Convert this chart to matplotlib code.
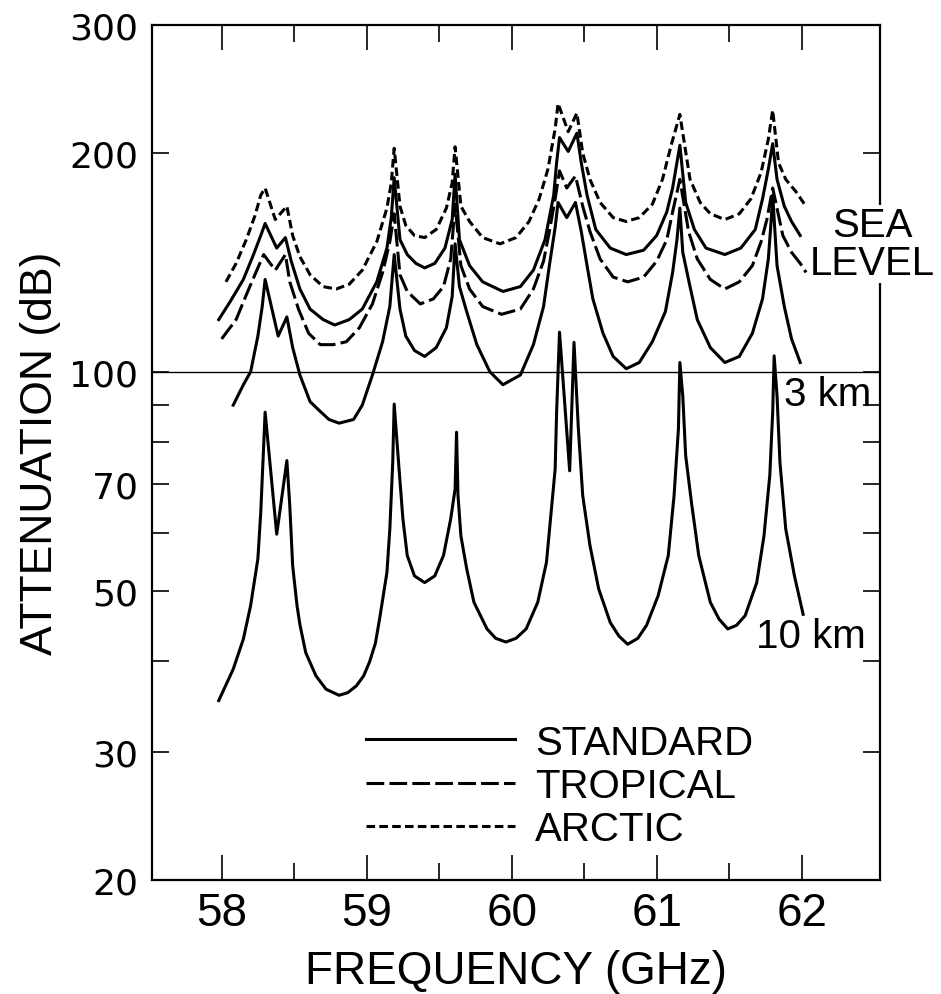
import matplotlib
matplotlib.use("Agg")
import matplotlib.pyplot as plt
from matplotlib.ticker import NullFormatter

plt.rcParams["font.family"] = ["Liberation Sans", "DejaVu Sans"]

# --- values (frequency in GHz, attenuation in dB) ---

# sea level, arctic atmosphere
sl_arctic_f = [58.03, 58.10, 58.17, 58.23, 58.27, 58.30, 58.37, 58.45, 58.49, 58.54,
               58.61, 58.70, 58.79, 58.88, 58.97, 59.07, 59.14, 59.17, 59.19, 59.23,
               59.27, 59.33, 59.40, 59.48, 59.55, 59.59, 59.61, 59.65, 59.71, 59.80,
               59.92, 60.03, 60.12, 60.19, 60.25, 60.30, 60.32, 60.39, 60.45, 60.49,
               60.54, 60.61, 60.70, 60.79, 60.88, 60.97, 61.04, 61.10, 61.16, 61.23,
               61.30, 61.37, 61.47, 61.57, 61.65, 61.72, 61.77, 61.80, 61.84, 61.89,
               61.96, 62.02]
sl_arctic_v = [133, 141, 152, 164, 175, 179, 162, 169, 154, 144,
               136, 131, 130, 132, 138, 151, 168, 182, 203, 169,
               159, 154, 153, 157, 168, 182, 204, 169, 161, 153,
               150, 153, 161, 173, 190, 216, 234, 214, 227, 200,
               184, 171, 163, 161, 163, 170, 184, 205, 226, 184,
               171, 165, 162, 165, 173, 188, 209, 229, 194, 184,
               177, 170]

# sea level, standard atmosphere
sl_std_f = [57.98, 58.06, 58.15, 58.22, 58.27, 58.30, 58.38, 58.44, 58.48, 58.54,
            58.61, 58.70, 58.78, 58.88, 58.97, 59.07, 59.14, 59.17, 59.19, 59.23,
            59.28, 59.34, 59.40, 59.47, 59.54, 59.59, 59.61, 59.64, 59.71, 59.80,
            59.94, 60.06, 60.15, 60.23, 60.29, 60.31, 60.33, 60.39, 60.45, 60.48,
            60.52, 60.58, 60.68, 60.79, 60.91, 61.00, 61.07, 61.11, 61.16, 61.20,
            61.26, 61.34, 61.47, 61.58, 61.68, 61.73, 61.77, 61.80, 61.83, 61.88,
            61.93, 61.99]
sl_std_v = [118, 125, 134, 145, 154, 160, 148, 153, 142, 130,
            122, 118, 116, 118, 122, 133, 148, 163, 185, 152,
            145, 141, 139, 141, 148, 162, 187, 152, 140, 133,
            129, 131, 138, 152, 175, 194, 210, 201, 213, 194,
            175, 157, 148, 145, 147, 154, 166, 179, 205, 171,
            157, 148, 145, 148, 157, 173, 190, 206, 184, 169,
            161, 154]

# sea level, tropical atmosphere
sl_trop_f = [58.00, 58.10, 58.18, 58.25, 58.29, 58.37, 58.44, 58.47, 58.53, 58.60,
             58.68, 58.77, 58.86, 58.95, 59.04, 59.11, 59.16, 59.19, 59.23, 59.28,
             59.37, 59.46, 59.53, 59.58, 59.61, 59.65, 59.71, 59.80, 59.93, 60.06,
             60.15, 60.22, 60.26, 60.30, 60.33, 60.38, 60.44, 60.49, 60.54, 60.61,
             60.70, 60.80, 60.91, 61.00, 61.07, 61.11, 61.16, 61.22, 61.28, 61.37,
             61.47, 61.57, 61.66, 61.72, 61.76, 61.80, 61.87, 61.93, 61.99, 62.03]
sl_trop_v = [111, 118, 129, 139, 145, 138, 145, 133, 122, 113,
             109, 109, 110, 115, 124, 137, 151, 165, 136, 129,
             124, 126, 131, 143, 170, 140, 130, 123, 120, 122,
             130, 142, 156, 173, 189, 179, 186, 169, 156, 143,
             135, 133, 135, 142, 152, 166, 184, 156, 143, 134,
             130, 133, 140, 151, 162, 179, 154, 146, 141, 137]

# 3 km, standard atmosphere
km3_f = [58.08, 58.15, 58.20, 58.25, 58.28, 58.30, 58.39, 58.45, 58.49, 58.54,
         58.61, 58.66, 58.74, 58.81, 58.91, 58.97, 59.04, 59.11, 59.16, 59.19,
         59.23, 59.27, 59.33, 59.40, 59.48, 59.55, 59.59, 59.61, 59.64, 59.69,
         59.76, 59.85, 59.94, 60.06, 60.15, 60.22, 60.26, 60.30, 60.32, 60.38,
         60.44, 60.48, 60.52, 60.56, 60.63, 60.70, 60.79, 60.88, 60.97, 61.06,
         61.11, 61.14, 61.16, 61.18, 61.23, 61.28, 61.37, 61.47, 61.57, 61.66,
         61.73, 61.77, 61.79, 61.80, 61.83, 61.88, 61.93, 61.99]
km3_v = [90, 96, 100, 112, 123, 134, 112, 119, 108, 99,
         91, 89, 86, 85, 86, 90, 99, 110, 123, 145,
         122, 112, 107, 105, 108, 115, 127, 150, 131, 121,
         109, 100, 96, 99, 109, 123, 140, 158, 171, 163,
         171, 156, 140, 126, 113, 105, 101, 103, 110, 121,
         137, 152, 168, 146, 131, 118, 108, 103, 105, 113,
         126, 143, 162, 175, 140, 123, 111, 103]

# 10 km, standard atmosphere
km10_f = [57.98, 58.08, 58.15, 58.20, 58.25, 58.27, 58.29, 58.30, 58.38, 58.45,
          58.47, 58.49, 58.52, 58.54, 58.58, 58.65, 58.72, 58.81, 58.87, 58.93,
          58.98, 59.02, 59.06, 59.09, 59.14, 59.16, 59.18, 59.19, 59.22, 59.25,
          59.28, 59.33, 59.40, 59.47, 59.53, 59.58, 59.61, 59.62, 59.63, 59.65,
          59.69, 59.74, 59.83, 59.89, 59.96, 60.03, 60.10, 60.18, 60.24, 60.27,
          60.30, 60.31, 60.33, 60.40, 60.43, 60.46, 60.49, 60.54, 60.60, 60.68,
          60.74, 60.80, 60.87, 60.93, 61.01, 61.08, 61.12, 61.15, 61.16, 61.18,
          61.20, 61.24, 61.29, 61.37, 61.43, 61.49, 61.55, 61.61, 61.69, 61.74,
          61.78, 61.80, 61.81, 61.83, 61.85, 61.89, 61.95, 62.01]
km10_v = [35.3, 39.0, 42.9, 47.7, 55.3, 64.1, 79.2, 88.0, 59.8, 75.5,
          65.5, 54.1, 47.7, 44.9, 41.1, 38.2, 36.6, 35.9, 36.2, 37.0,
          38.2, 39.9, 42.3, 45.8, 53.0, 60.8, 75.1, 90.3, 75.1, 62.8,
          55.9, 52.4, 51.3, 52.4, 55.9, 62.8, 69.0, 82.6, 67.6, 59.5,
          53.6, 48.2, 44.3, 43.0, 42.5, 43.0, 44.3, 48.2, 54.7, 63.4,
          73.5, 88.0, 113.4, 73.1, 109.8, 83.5, 67.6, 57.7, 50.3, 45.2,
          43.3, 42.2, 43.0, 44.8, 49.2, 55.9, 67.6, 83.5, 103.0, 92.7,
          76.7, 66.1, 55.9, 48.2, 45.7, 44.3, 44.8, 46.2, 51.3, 59.5,
          72.0, 88.0, 105.2, 92.7, 75.1, 60.8, 52.4, 46.4]

x_ticks = [58, 59, 60, 61, 62]
x_minor = [58.5, 59.5, 60.5, 61.5]
y_ticks = [20, 30, 50, 70, 100, 200, 300]
y_minor = [40, 60, 80, 90]

# --- figure ---
fig = plt.figure(figsize=(9.41, 9.95), dpi=100)
ax = fig.add_axes([152 / 941, 1 - 881 / 995, 728 / 941, 855 / 995])

lw = 2.2
arctic_ls = (0, (2.8, 1.4))
trop_ls = (0, (5.8, 1.7))

arc_line, = ax.plot(sl_arctic_f, sl_arctic_v, color="black", lw=lw, ls=arctic_ls)
std_line, = ax.plot(sl_std_f, sl_std_v, color="black", lw=lw)
trop_line, = ax.plot(sl_trop_f, sl_trop_v, color="black", lw=lw, ls=trop_ls)
ax.plot(km3_f, km3_v, color="black", lw=lw)
ax.plot(km10_f, km10_v, color="black", lw=lw)

ax.axhline(100, color="black", lw=1.0)

ax.set_yscale("log")
ax.set_xlim(57.52, 62.54)
ax.set_ylim(20, 300)

ax.set_xticks(x_ticks, labels=[str(t) for t in x_ticks])
ax.set_xticks(x_minor, minor=True)
ax.set_yticks(y_ticks, labels=[str(t) for t in y_ticks])
ax.set_yticks(y_minor, minor=True)
ax.yaxis.set_minor_formatter(NullFormatter())

for s in ax.spines.values():
    s.set_linewidth(1.6)

ax.tick_params(axis="x", which="both", direction="in", top=True, bottom=True, width=1.2)
ax.tick_params(axis="x", which="major", length=18, labelsize=33, pad=8)
ax.tick_params(axis="x", which="minor", length=12)
ax.tick_params(axis="y", which="both", direction="in", left=True, right=True,
               length=12, width=1.2)
ax.tick_params(axis="y", which="major", labelsize=26, pad=10)
for lab in ax.get_yticklabels():
    lab.set_family("DejaVu Sans")

ax.set_xlabel("FREQUENCY (GHz)", fontsize=33, labelpad=10)
ax.set_ylabel("ATTENUATION (dB)", fontsize=32, labelpad=6,
              family=["Liberation Sans Narrow", "Liberation Sans"])

# curve labels
ax.text(62.49, 150, "SEA\nLEVEL", fontsize=29, ha="center", va="center",
        linespacing=1.0, clip_on=False, zorder=5,
        bbox=dict(facecolor="white", edgecolor="none", pad=1))
ax.text(62.18, 93.3, "3 km", fontsize=29, ha="center", va="center")
ax.text(62.06, 43.3, "10 km", fontsize=29, ha="center", va="center")

ax.legend([std_line, trop_line, arc_line], ["STANDARD", "TROPICAL", "ARCTIC"],
          loc="upper left", bbox_to_anchor=(0.294, 0.183), frameon=False,
          fontsize=29, handlelength=3.7, handletextpad=0.5, labelspacing=0.13,
          borderpad=0, borderaxespad=0)

fig.savefig("out.png", dpi=100)
